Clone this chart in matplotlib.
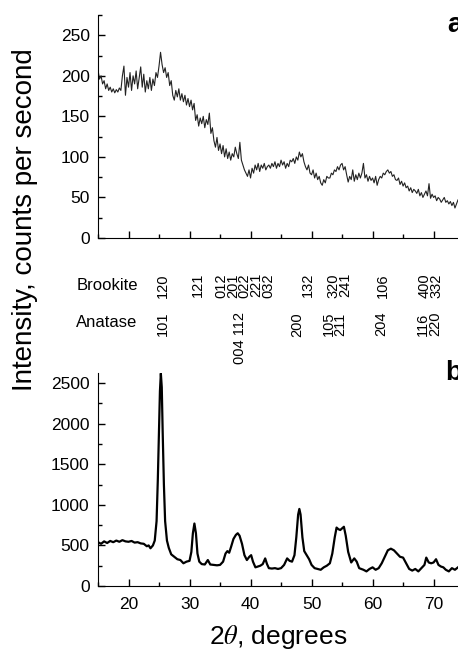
import numpy as np
import matplotlib
matplotlib.use('Agg')
import matplotlib.pyplot as plt
from matplotlib.ticker import MultipleLocator, NullFormatter
from matplotlib.transforms import blended_transform_factory

plt.rcParams['font.family'] = ['Liberation Sans', 'DejaVu Sans']
plt.rcParams['mathtext.fontset'] = 'stix'

# (a) scan, 0.25 deg step from 15 to 74
theta_a = np.arange(15.0, 74.01, 0.25)
counts_a = [
    207, 196, 200, 190,   # 15
    194, 184, 190, 182,   # 16
    186, 180, 184, 179,   # 17
    183, 180, 185, 182,   # 18
    200, 212, 176, 198,   # 19
    186, 204, 182, 200,   # 20
    190, 206, 184, 198,   # 21
    211, 186, 202, 180,   # 22
    194, 184, 198, 182,   # 23
    196, 188, 204, 198,   # 24
    212, 229, 214, 204,   # 25
    210, 198, 204, 188,   # 26
    194, 176, 170, 182,   # 27
    174, 184, 170, 178,   # 28
    168, 176, 164, 172,   # 29
    162, 170, 158, 166,   # 30
    145, 152, 138, 148,   # 31
    141, 150, 136, 146,   # 32
    140, 154, 129, 136,   # 33
    120, 112, 124, 108,   # 34
    116, 104, 114, 100,   # 35
    110, 98, 106, 96,     # 36
    104, 100, 112, 104,   # 37
    98, 118, 96, 90,      # 38
    84, 80, 76, 84,       # 39
    74, 86, 80, 90,       # 40
    84, 92, 82, 90,       # 41
    86, 92, 84, 88,       # 42
    90, 86, 92, 88,       # 43
    94, 86, 92, 88,       # 44
    96, 90, 94, 86,       # 45
    92, 88, 96, 94,       # 46
    98, 92, 100, 96,      # 47
    106, 100, 104, 94,    # 48
    88, 84, 90, 80,       # 49
    78, 84, 74, 80,       # 50
    72, 76, 68, 65,       # 51
    72, 68, 76, 74,       # 52
    74, 80, 78, 84,       # 53
    82, 88, 84, 90,       # 54
    92, 84, 88, 78,       # 55
    69, 76, 72, 84,       # 56
    70, 78, 72, 80,       # 57
    74, 80, 92, 74,       # 58
    78, 70, 76, 71,       # 59
    74, 68, 76, 65,       # 60
    72, 76, 74, 80,       # 61
    78, 82, 84, 80,       # 62
    82, 76, 78, 72,       # 63
    71, 74, 66, 70,       # 64
    64, 68, 62, 64,       # 65
    58, 62, 56, 60,       # 66
    58, 55, 60, 52,       # 67
    56, 50, 54, 58,       # 68
    52, 67, 49, 54,       # 69
    50, 52, 46, 50,       # 70
    48, 44, 47, 50,       # 71
    44, 46, 42, 45,       # 72
    40, 44, 37, 42,       # 73
    47,                   # 74
]

# (b) scan
theta_b = [15.0, 15.5, 16.0, 16.5, 17.0, 17.5, 18.0, 18.5, 19.0, 19.5,
           20.0, 20.5, 21.0, 21.5, 22.0, 22.5, 23.0, 23.3, 23.6, 24.0,
           24.3, 24.6, 24.8, 25.0, 25.15, 25.3, 25.45, 25.6, 25.8, 26.0,
           26.3, 26.6, 27.0, 27.5, 28.0, 28.5, 29.0, 29.5, 30.0, 30.3,
           30.55, 30.8, 31.05, 31.3, 31.6, 32.0, 32.5, 33.0, 33.4, 34.0,
           34.5, 35.0, 35.5, 35.9, 36.2, 36.5, 36.8, 37.2, 37.6, 37.9,
           38.2, 38.6, 39.0, 39.4, 39.8, 40.1, 40.4, 40.8, 41.2, 41.6,
           42.0, 42.4, 42.7, 43.0, 43.5, 44.0, 44.5, 45.0, 45.5, 46.0,
           46.4, 46.8, 47.2, 47.5, 47.8, 48.0, 48.2, 48.5, 48.8, 49.2,
           49.6, 50.0, 50.5, 51.0, 51.5, 52.0, 52.5, 53.0, 53.4, 53.8,
           54.1, 54.4, 54.7, 55.0, 55.3, 55.6, 56.0, 56.5, 57.0, 57.4,
           57.8, 58.5, 59.0, 59.5, 60.0, 60.5, 61.0, 61.5, 62.0, 62.5,
           63.0, 63.5, 64.0, 64.5, 65.0, 65.5, 66.0, 66.5, 67.0, 67.5,
           68.0, 68.5, 68.8, 69.2, 69.6, 70.0, 70.4, 70.8, 71.2, 71.6,
           72.0, 72.5, 73.0, 73.5, 74.0]
counts_b = [540, 520, 550, 530, 555, 540, 560, 545, 565, 550,
            545, 555, 535, 540, 525, 520, 490, 500, 465, 500,
            560, 800, 1300, 1900, 2400, 2620, 2450, 1900, 1250, 800,
            560, 470, 390, 360, 330, 320, 280, 300, 310, 420,
            650, 770, 650, 400, 300, 270, 265, 320, 265, 260,
            255, 260, 300, 400, 430, 410, 480, 580, 630, 650,
            620, 520, 380, 320, 360, 380, 300, 230, 240, 250,
            270, 340, 270, 220, 215, 220, 210, 220, 260, 340,
            310, 300, 380, 600, 880, 950, 880, 600, 430, 380,
            330, 260, 220, 210, 200, 230, 250, 280, 400, 600,
            720, 700, 690, 710, 730, 620, 420, 290, 340, 300,
            220, 200, 180, 210, 230, 200, 220, 280, 360, 440,
            460, 440, 400, 360, 350, 280, 210, 190, 210, 180,
            220, 260, 350, 290, 280, 290, 330, 260, 240, 230,
            200, 180, 220, 200, 230]

# reflection labels, grouped where they sit side by side
brookite_pos = [25.7, 31.4, 39.05, 49.4, 54.55, 61.7, 69.55]
brookite_hkl = ['120', '121', '012\n201\n022\n221\n032', '132',
                '320\n241', '106', '400\n332']
anatase_pos = [25.7, 38.3, 47.6, 53.8, 61.5, 69.25]
anatase_hkl = ['101', '004 112', '200', '105\n211', '204', '116\n220']

W, H = 458, 653
fig = plt.figure(figsize=(W / 100, H / 100), dpi=100)

left = 98 / W
width = 360 / W
ax_a = fig.add_axes([left, 1 - 238 / H, width, 223 / H])
ax_b = fig.add_axes([left, 1 - 586 / H, width, 213 / H])

ax_a.plot(theta_a, counts_a, color='#222222', lw=0.8)
ax_b.plot(theta_b, counts_b, color='black', lw=1.6)

ax_a.set_ylim(0, 275)
ax_b.set_ylim(0, 2625)
for ax in (ax_a, ax_b):
    ax.set_xlim(15, 74)
    ax.spines['top'].set_visible(False)
    ax.spines['right'].set_visible(False)
    ax.xaxis.set_major_locator(MultipleLocator(10))
    ax.xaxis.set_minor_locator(MultipleLocator(5))
    ax.tick_params(which='both', direction='in', labelsize=12.5, width=1)
    ax.tick_params(which='major', length=5)
    ax.tick_params(which='minor', length=3)
    ax.tick_params(axis='y', pad=6)
    ax.tick_params(axis='x', pad=8)

ax_a.yaxis.set_major_locator(MultipleLocator(50))
ax_a.yaxis.set_minor_locator(MultipleLocator(25))
ax_a.xaxis.set_major_formatter(NullFormatter())
ax_b.yaxis.set_major_locator(MultipleLocator(500))
ax_b.yaxis.set_minor_locator(MultipleLocator(250))

fig.text(447 / W, 1 - 25 / H, 'a', fontsize=20, fontweight='bold', ha='left', va='center')
fig.text(445 / W, 1 - 373 / H, 'b', fontsize=20, fontweight='bold', ha='left', va='center')

fig.text(25 / W, 1 - 220 / H, 'Intensity, counts per second', rotation=90,
         fontsize=20, ha='center', va='center')
fig.text(278 / W, 1 - 637 / H, r'2$\theta$, degrees', fontsize=19, ha='center', va='center')

fig.text(77 / W, 1 - 285 / H, 'Brookite', fontsize=12, ha='left', va='center')
fig.text(76 / W, 1 - 323 / H, 'Anatase', fontsize=12, ha='left', va='center')

trans = blended_transform_factory(ax_b.transData, fig.transFigure)
for pos, hkl in zip(brookite_pos, brookite_hkl):
    fig.text(pos, 1 - 273 / H, hkl, rotation=90, fontsize=10.5, linespacing=0.78,
             ha='center', va='top', transform=trans)
for pos, hkl in zip(anatase_pos, anatase_hkl):
    fig.text(pos, 1 - 312 / H, hkl, rotation=90, fontsize=10.5, linespacing=0.78,
             ha='center', va='top', transform=trans)

fig.savefig('out.png', dpi=100)
